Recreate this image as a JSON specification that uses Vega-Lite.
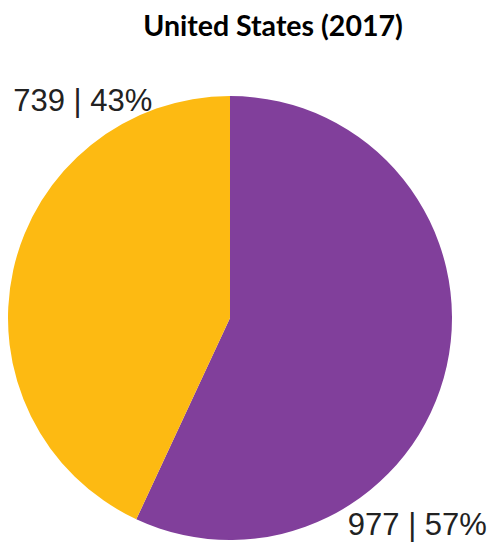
{
  "$schema": "https://vega.github.io/schema/vega-lite/v6.json",
  "width": 460,
  "height": 460,
  "autosize": {"type": "none"},
  "padding": {"top": 88, "left": 0, "right": 35, "bottom": 0},
  "background": "white",
  "config": {"view": {"stroke": null}},
  "title": {
    "text": "United States (2017)",
    "font": "Lato",
    "fontWeight": "bold",
    "fontSize": 28.5,
    "color": "#000000",
    "anchor": "middle",
    "dx": 43,
    "offset": 45
  },
  "data": {
    "values": [
      {"category": "A", "value": 977, "label": "977 | 57%"},
      {"category": "B", "value": 739, "label": "739 | 43%"}
    ]
  },
  "encoding": {
    "theta": {"field": "value", "type": "quantitative", "stack": true},
    "order": {"field": "category", "type": "ordinal", "sort": "ascending"},
    "color": {
      "field": "category",
      "type": "nominal",
      "scale": {"domain": ["A", "B"], "range": ["#813F9B", "#FDBA12"]},
      "legend": null
    }
  },
  "layer": [
    {"mark": {"type": "arc", "outerRadius": 222}},
    {
      "mark": {"type": "text", "radius": 240, "font": "Liberation Sans", "fontSize": 31, "align": "center", "baseline": "middle", "dx": 87, "dy": -164},
      "encoding": {
        "text": {"condition": {"test": "datum.category == 'B'", "field": "label"}, "value": ""},
        "color": {"value": "#222222"}
      }
    },
    {
      "mark": {"type": "text", "radius": 240, "font": "Liberation Sans", "fontSize": 31, "align": "center", "baseline": "middle", "dx": -47, "dy": 156},
      "encoding": {
        "text": {"condition": {"test": "datum.category == 'A'", "field": "label"}, "value": ""},
        "color": {"value": "#222222"}
      }
    }
  ]
}
